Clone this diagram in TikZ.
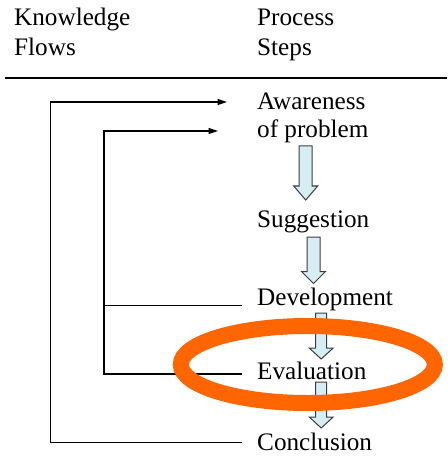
\documentclass[tikz,border=0pt]{standalone}
\usepackage{fontspec}
\setmainfont{Liberation Serif}
\usetikzlibrary{arrows.meta}
\definecolor{arrowfill}{HTML}{D6EEF3}
\definecolor{arrowline}{HTML}{3C3C3C}
\definecolor{ringorange}{HTML}{FF6600}
\newcommand{\blockdown}[5]{% centre x, top y, tip y, shaft half width, head height
  \draw[blockarrow] ({#1-#4},#2) -- ({#1+#4},#2) -- ({#1+#4},{#3-#5}) -- ({#1+12},{#3-#5})
    -- (#1,#3) -- ({#1-12},{#3-#5}) -- ({#1-#4},{#3-#5}) -- cycle;}
\begin{document}
\begin{tikzpicture}[x=1pt,y=-1pt,
  lbl/.style={anchor=base west,inner sep=0pt,font=\fontsize{25.2}{30}\selectfont},
  flow/.style={line width=1.2pt,black},
  flowarrow/.style={flow,-{Triangle[length=9.5pt,width=6pt]}},
  blockarrow/.style={fill=arrowfill,draw=arrowline,line width=1pt,line join=miter},
  ring/.style={draw=ringorange,line width=16pt}]
\useasboundingbox (0,0) rectangle (447,462);

% column headings
\node[lbl] (kf1) at (14,26) {Knowledge};
\node[lbl] (kf2) at (14,56) {Flows};
\node[lbl] (ps1) at (257,26) {Process};
\node[lbl] (ps2) at (257,56) {Steps};
\draw[line width=1.3pt] (5,78) -- (447,78);

% process steps
\node[lbl] (aware) at (257,110) {Awareness};
\node[lbl] (prob)  at (257,138) {of problem};
\node[lbl] (sugg)  at (257,227) {Suggestion};
\node[lbl] (dev)   at (257,305.5) {Development};
\node[lbl] (eval)  at (257,379) {Evaluation};
\node[lbl] (concl) at (257,450.5) {Conclusion};

% block arrows between steps
\blockdown{305.7}{146}{200}{6.5}{14}
\blockdown{313.5}{237}{283.5}{6.5}{12}
\blockdown{321.2}{313}{359}{5.5}{11}
\blockdown{321.2}{382}{428}{5.5}{11}

% knowledge flow loops
\coordinate (outerIn)  at (227,102);
\coordinate (outerOut) at (241.5,442.5);
\coordinate (innerIn)  at (218,131);
\coordinate (devOut)   at (241.5,305.5);
\coordinate (evalOut)  at (241.5,374);

\draw[flowarrow] (outerOut) -- (50.5,442.5) -- (50.5,102) -- (outerIn);
\draw[flowarrow] (evalOut) -- (104,374) -- (104,131) -- (innerIn);
\draw[flow] (devOut) -- (104,305.5);

% highlight ring around the evaluation step
\draw[ring] (307.8,364.5) ellipse [x radius=127, y radius=38.5];
\end{tikzpicture}
\end{document}
